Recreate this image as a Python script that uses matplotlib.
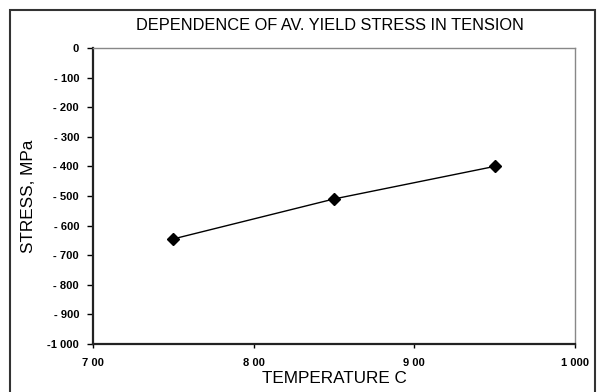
import matplotlib
matplotlib.use("Agg")
import matplotlib.pyplot as plt
from matplotlib.patches import Rectangle

plt.rcParams['font.family'] = ['Liberation Sans', 'DejaVu Sans']

# Average yield stress in tension vs temperature
temperature = [750, 850, 950]
stress = [-645, -510, -400]

x_ticks = [700, 800, 900, 1000]
x_tick_labels = ["7 00", "8 00", "9 00", "1 000"]
y_ticks = [0, -100, -200, -300, -400, -500, -600, -700, -800, -900, -1000]
y_tick_labels = ["0", "- 100", "- 200", "- 300", "- 400", "- 500",
                 "- 600", "- 700", "- 800", "- 900", "-1 000"]

fig = plt.figure(figsize=(5.97, 3.92), dpi=100)
ax = fig.add_axes([93 / 597, 1 - 344 / 392, 482 / 597, 296 / 392])

ax.plot(temperature, stress, color="black", linewidth=1.0,
        marker="D", markersize=6.5, markerfacecolor="black", markeredgecolor="black")

ax.set_xlim(700, 1000)
ax.set_ylim(-1000, 0)
ax.set_xticks(x_ticks)
ax.set_xticklabels(x_tick_labels, fontsize=8, fontweight="bold")
ax.set_yticks(y_ticks)
ax.set_yticklabels(y_tick_labels, fontsize=8, fontweight="bold")
ax.tick_params(axis="x", direction="out", length=3, width=1, pad=7)
ax.tick_params(axis="y", direction="out", length=4, width=1, pad=6)

for side in ["left", "bottom"]:
    ax.spines[side].set_linewidth(1.6)
    ax.spines[side].set_color("#222222")
for side in ["top", "right"]:
    ax.spines[side].set_linewidth(1.0)
    ax.spines[side].set_color("#888888")

ax.set_xlabel("TEMPERATURE C", fontsize=12.3, labelpad=2)
ax.set_ylabel("STRESS, MPa", fontsize=12.3, labelpad=8)

fig.text(0.553, 1 - 25 / 392, "DEPENDENCE OF AV. YIELD STRESS IN TENSION",
         ha="center", va="center", fontsize=11.8)

# outer chart border
fig.patches.append(Rectangle((10 / 597, -0.05), 585 / 597, 1.05 - 10 / 392,
                             transform=fig.transFigure, fill=False,
                             edgecolor="#333333", linewidth=1.5))

fig.savefig("out.png", dpi=100)
